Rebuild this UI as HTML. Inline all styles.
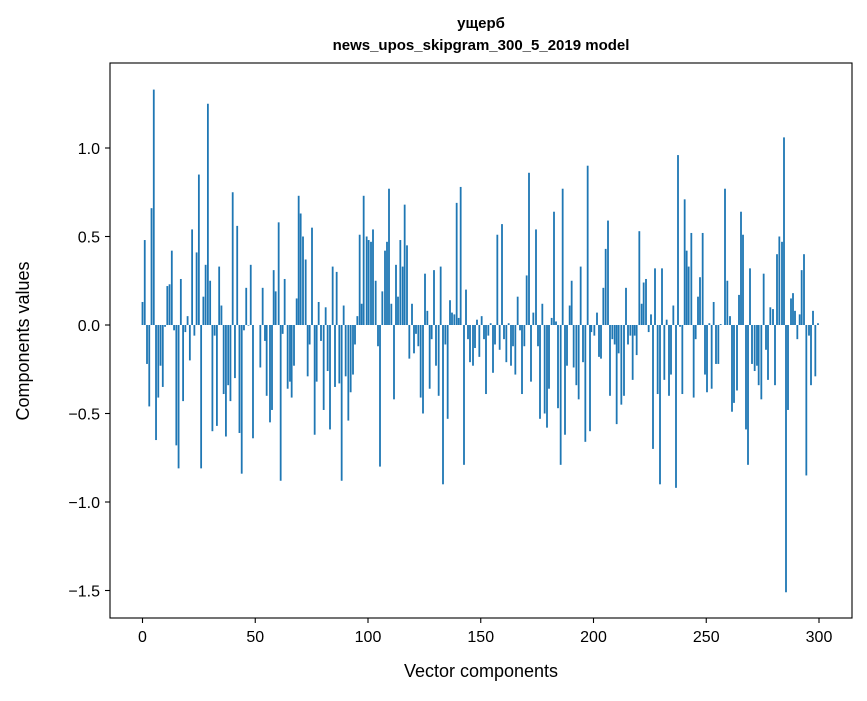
<!DOCTYPE html>
<html><head><meta charset="utf-8"><style>body{margin:0;background:#fff}svg text{font-family:"Liberation Sans","DejaVu Sans",sans-serif}</style></head>
<body>
<svg id="s" width="867" height="696" xmlns="http://www.w3.org/2000/svg">
<rect width="867" height="696" fill="#fff"/>
<g id="bars" fill="#1f77b4"></g>
<rect x="110" y="63" width="742" height="555" fill="none" stroke="#000" stroke-width="1.1"/>
<g stroke="#000" stroke-width="1.1">
<line x1="142.5" y1="618" x2="142.5" y2="623"/><line x1="255.25" y1="618" x2="255.25" y2="623"/><line x1="368" y1="618" x2="368" y2="623"/><line x1="480.75" y1="618" x2="480.75" y2="623"/><line x1="593.5" y1="618" x2="593.5" y2="623"/><line x1="706.25" y1="618" x2="706.25" y2="623"/><line x1="819" y1="618" x2="819" y2="623"/>
<line x1="105" y1="148" x2="110" y2="148"/><line x1="105" y1="236.5" x2="110" y2="236.5"/><line x1="105" y1="325" x2="110" y2="325"/><line x1="105" y1="413.5" x2="110" y2="413.5"/><line x1="105" y1="502" x2="110" y2="502"/><line x1="105" y1="590.5" x2="110" y2="590.5"/>
</g>
<g font-size="16" text-anchor="middle" fill="#000">
<text x="142.5" y="642">0</text><text x="255.25" y="642">50</text><text x="368" y="642">100</text><text x="480.75" y="642">150</text><text x="593.5" y="642">200</text><text x="706.25" y="642">250</text><text x="819" y="642">300</text>
</g>
<g font-size="16" text-anchor="end" fill="#000">
<text x="100" y="154">1.0</text><text x="100" y="242.5">0.5</text><text x="100" y="331">0.0</text><text x="100" y="419.5">−0.5</text><text x="100" y="508">−1.0</text><text x="100" y="596.5">−1.5</text>
</g>
<text x="481" y="677" font-size="18" text-anchor="middle">Vector components</text>
<text transform="translate(29,341) rotate(-90)" font-size="18" text-anchor="middle">Components values</text>
<text x="481" y="28" font-size="15" font-weight="bold" text-anchor="middle">ущерб</text>
<text x="481" y="50" font-size="15" font-weight="bold" text-anchor="middle">news_upos_skipgram_300_5_2019 model</text>
</svg>
<script>
var z1=[0.13,0.48,-0.22,-0.46,0.66,1.33,-0.65,-0.41,-0.23,-0.35,-0.01,0.22,0.23,0.42,-0.03,-0.68,-0.81,0.26,-0.43,-0.04,0.05,-0.2,0.54,-0.06,0.41,0.85,-0.81,0.16,0.34,1.25,0.25,-0.6,-0.06,-0.57,0.33,0.11,-0.39,-0.63,-0.34,-0.43,0.75,-0.3,0.56,-0.61,-0.84,-0.03,0.21,0,0.34,-0.64];
var bars=[];z1.forEach(function(v,i){bars.push([142.5+i*2.255,v]);});
function add(x0,a){for(var i=0;i<a.length;i+=2)bars.push([x0+a[i]/3,a[i+1]]);}
add(250,[31,-0.24,38,0.21,45,-0.09,50,-0.4,60,-0.55,66,-0.48,71,0.31,77,0.19,86,0.58,92,-0.88,98,-0.05,104,0.26,113,-0.36,120,-0.32,125,-0.41,132,-0.23,140,0.15,146,0.73,152,0.63,159,0.5,167,0.37,173,-0.29,179,-0.11,186,0.55,194,-0.62,200,-0.32,206,0.13,213,-0.09,221,-0.48,227,0.1,233,-0.26,240,-0.59,248,0.33,255,-0.35,260,0.3,268,-0.33,275,-0.88,281,0.11,287,-0.29,295,-0.54,302,-0.38,309,-0.28,315,-0.11,322,0.05,329,0.51,335,0.12,341,0.73,350,0.5]);
add(362,[20,0.48,27,0.47,33,0.54,41,0.25,48,-0.12,54,-0.8,61,0.19,69,0.42,75,0.47,81,0.77,88,0.12,96,-0.42,102,0.34,108,0.16,115,0.48,122,0.33,128,0.68,135,0.45,142,-0.19,150,0.12,156,-0.16,162,-0.05,169,-0.12,176,-0.41,183,-0.5,189,0.29,196,0.08,203,-0.36,209,-0.08,216,0.31,222,-0.23,230,-0.4,236,0.33,243,-0.9,250,-0.11,257,-0.53,264,0.14,270,0.07,277,0.06,284,0.69,290,0.04,296,0.78,306,-0.79,312,0.2,318,-0.08,324,-0.21,333,-0.23,339,-0.13,345,0.03,352,-0.18]);
add(474,[23,0.05,30,-0.08,36,-0.39,43,-0.06,50,0.01,57,-0.27,63,-0.11,70,0.51,77,-0.14,84,0.57,90,-0.08,97,-0.21,104,0.01,111,-0.23,117,-0.12,124,-0.28,131,0.16,138,-0.03,144,-0.39,151,-0.12,158,0.28,165,0.86,171,-0.32,178,0.07,186,0.54,192,-0.12,198,-0.53,205,0.12,212,-0.5,219,-0.58,225,-0.36,233,0.04,240,0.64,246,0.02,252,-0.47,260,-0.79,266,0.77,273,-0.62,279,-0.23,287,0.11,293,0.25,299,-0.24,307,-0.34,314,-0.42,320,0.33,327,-0.21,334,-0.66,341,0.9,348,-0.6,352,-0.04]);
add(586,[25,-0.06,33,0.07,39,-0.18,45,-0.19,52,0.21,59,0.43,66,0.59,72,-0.4,79,-0.08,86,-0.11,92,-0.56,98,-0.16,106,-0.45,114,-0.4,120,0.21,126,-0.11,133,-0.06,140,-0.31,146,-0.06,152,-0.17,160,0.53,167,0.12,173,0.24,180,0.26,188,-0.04,195,0.06,201,-0.7,207,0.32,215,-0.39,222,-0.9,228,0.32,235,-0.31,242,0.03,249,-0.4,255,-0.28,262,0.11,270,-0.92,276,0.96,282,-0.01,289,-0.39,296,0.71,302,0.42,308,0.33,316,0.52,323,-0.41,329,-0.08,336,0.16,342,0.27,350,0.52]);
add(698,[21,-0.28,27,-0.38,34,0.01,41,-0.36,47,0.13,54,-0.22,61,-0.22,68,0.005,81,0.77,88,0.25,96,0.05,102,-0.49,108,-0.44,117,-0.37,123,0.17,129,0.64,135,0.51,144,-0.59,150,-0.79,156,0.32,162,-0.22,170,-0.26,177,-0.23,182,-0.34,190,-0.42,197,0.29,204,-0.14,210,-0.31,217,0.1,225,0.09,231,-0.34,237,0.4,244,0.5,252,0.47,258,1.06,264,-1.51,270,-0.48,279,0.15,285,0.18,291,0.08,298,-0.08,305,0.06,311,0.31,318,0.4,325,-0.85,333,-0.06,339,-0.34,345,0.08,352,-0.29,360,0.01]);
var g=document.getElementById('bars'),h='';
bars.forEach(function(b){var y=325-b[1]*177,top=Math.min(y,325),ht=Math.max(Math.abs(b[1]*177),0.6);h+='<rect x="'+(b[0]-0.9).toFixed(2)+'" y="'+top.toFixed(2)+'" width="1.8" height="'+ht.toFixed(2)+'"/>';});
g.innerHTML=h;
</script>
</body></html>
